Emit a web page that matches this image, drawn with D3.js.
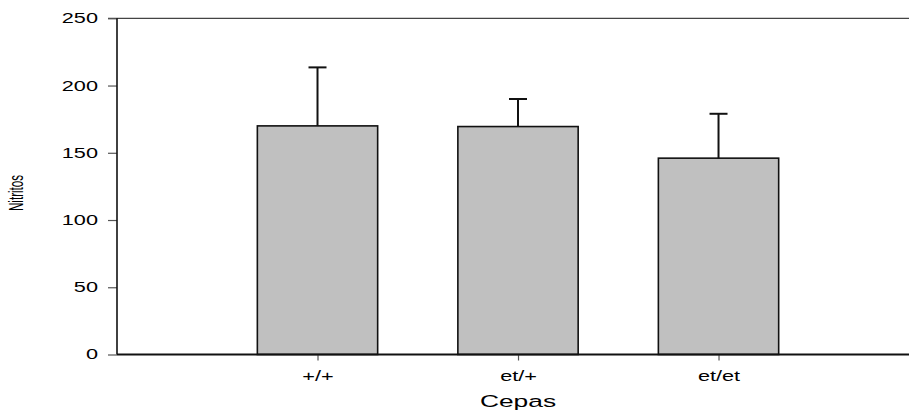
<!DOCTYPE html>
<html>
<head>
<meta charset="utf-8">
<script src="https://cdn.jsdelivr.net/npm/d3@7"></script>
<style>
  body { margin: 0; background: #fff; }
  text { font-family: "Liberation Sans", Arial, sans-serif; fill: #000; }
</style>
</head>
<body>
<script>
// data
const cepas = ["+/+", "et/+", "et/et"];
const nitritos = [170, 169.5, 146];
const errores = [43.5, 20.5, 33];
const yTicks = [0, 50, 100, 150, 200, 250];

const width = 909, height = 413;
const stretch = 1.55; // text in the original is wide

const svg = d3.select("body").append("svg")
    .attr("width", width)
    .attr("height", height);

// x is a plain position scale, bars sit at 1,2,3
const x = d3.scaleLinear().domain([0, 3.95]).range([117, 909]);
const y = d3.scaleLinear().domain([0, 250]).range([354.5, 18.3]);
const barW = x(0.6) - x(0);

function widen(sel) {
    sel.each(function () {
        const t = d3.select(this);
        const tx = +t.attr("x") || 0, ty = +t.attr("y") || 0;
        t.attr("x", 0).attr("y", 0)
         .attr("transform", `translate(${tx},${ty}) scale(${stretch},1)`);
    });
}

// top frame line
svg.append("line")
    .attr("x1", 108).attr("x2", width)
    .attr("y1", y(250)).attr("y2", y(250))
    .attr("stroke", "#444").attr("stroke-width", 1.3);

// bars
svg.append("g")
    .selectAll("rect")
    .data(nitritos)
    .enter().append("rect")
    .attr("x", (d, i) => x(i + 1) - barW / 2)
    .attr("y", d => y(d))
    .attr("width", barW)
    .attr("height", d => y(0) - y(d))
    .attr("fill", "#c0c0c0")
    .attr("stroke", "#111")
    .attr("stroke-width", 1.6);

// error bars (upper only)
const err = svg.append("g").attr("stroke", "#111").attr("stroke-width", 2);
err.selectAll(".v")
    .data(nitritos)
    .enter().append("line")
    .attr("class", "v")
    .attr("x1", (d, i) => x(i + 1)).attr("x2", (d, i) => x(i + 1))
    .attr("y1", d => y(d)).attr("y2", (d, i) => y(d + errores[i]));
err.selectAll(".cap")
    .data(nitritos)
    .enter().append("line")
    .attr("class", "cap")
    .attr("x1", (d, i) => x(i + 1) - 9).attr("x2", (d, i) => x(i + 1) + 9)
    .attr("y1", (d, i) => y(d + errores[i])).attr("y2", (d, i) => y(d + errores[i]));

// y axis
const yAxis = svg.append("g")
    .attr("transform", `translate(${x(0)},0)`)
    .call(d3.axisLeft(y).tickValues(yTicks).tickSize(9).tickPadding(10));
yAxis.select(".domain").remove();
yAxis.selectAll(".tick line").attr("stroke", "#555").attr("stroke-width", 1.2);
yAxis.selectAll("text").style("font-size", "14px").call(widen);
svg.append("line")
    .attr("x1", x(0)).attr("x2", x(0))
    .attr("y1", y(250)).attr("y2", y(0))
    .attr("stroke", "#111").attr("stroke-width", 1.6);

// x axis
const xAxis = svg.append("g")
    .attr("transform", `translate(0,${y(0)})`)
    .call(d3.axisBottom(x).tickValues([1, 2, 3])
        .tickFormat((d) => cepas[d - 1]).tickSize(6).tickPadding(11));
xAxis.select(".domain").remove();
xAxis.selectAll(".tick line").attr("stroke", "#555").attr("stroke-width", 1.2);
xAxis.selectAll("text").style("font-size", "14px").call(widen);
svg.append("line")
    .attr("x1", x(0)).attr("x2", width)
    .attr("y1", y(0)).attr("y2", y(0))
    .attr("stroke", "#111").attr("stroke-width", 2);

// axis titles
svg.append("text")
    .attr("text-anchor", "middle")
    .attr("transform", `translate(${x(2)},407) scale(${stretch},1)`)
    .style("font-size", "17px")
    .text("Cepas");

svg.append("text")
    .attr("text-anchor", "middle")
    .attr("transform", `translate(23,193) scale(${stretch},1) rotate(-90)`)
    .attr("textLength", 36)
    .attr("lengthAdjust", "spacingAndGlyphs")
    .style("font-size", "13px")
    .text("Nitritos");
</script>
</body>
</html>
